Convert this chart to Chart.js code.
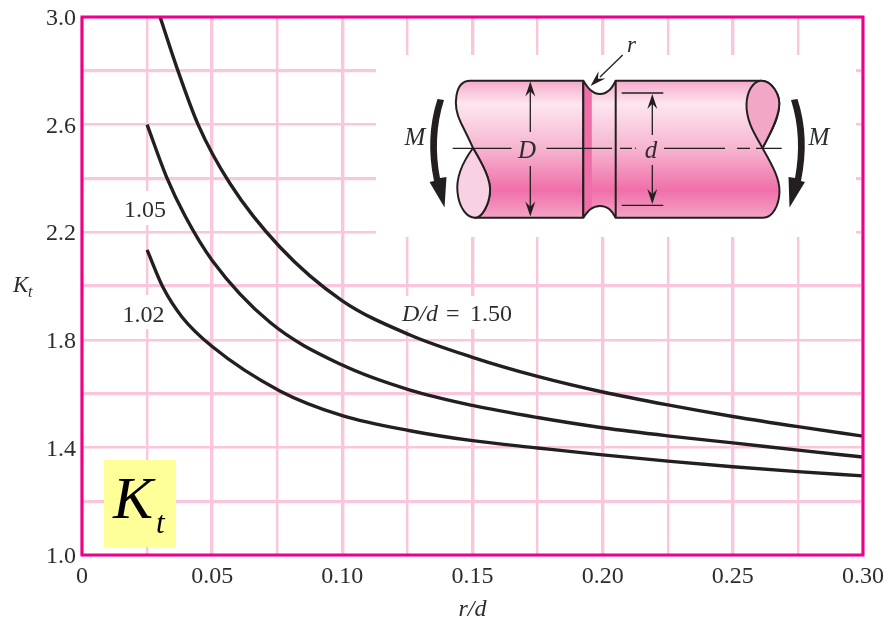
<!DOCTYPE html>
<html>
<head>
<meta charset="utf-8">
<title>Kt vs r/d</title>
<style>
  html, body { margin: 0; padding: 0; background: #fff; }
  canvas { display: block; }
</style>
<script src="https://cdn.jsdelivr.net/npm/chart.js@4/dist/chart.umd.min.js"></script>
</head>
<body>
<canvas id="ktChart" width="889" height="624"></canvas>
<script>
const xTickLabels = ['0', '', '0.05', '', '0.10', '', '0.15', '', '0.20', '', '0.25', '', '0.30'];
const yTickLabels = ['1.0', '', '1.4', '', '1.8', '', '2.2', '', '2.6', '', '3.0'];

const rd150 = [0.030, 0.0365, 0.0446, 0.0569, 0.076, 0.100, 0.126, 0.150, 0.175, 0.200, 0.225, 0.250, 0.275, 0.300];
const kt150 = [3.00, 2.81, 2.60, 2.38, 2.145, 1.945, 1.818, 1.735, 1.664, 1.606, 1.558, 1.515, 1.477, 1.442];

const rd105 = [0.025, 0.0327, 0.0396, 0.050, 0.0722, 0.100, 0.126, 0.150, 0.175, 0.200, 0.225, 0.250, 0.275, 0.300];
const kt105 = [2.60, 2.40, 2.26, 2.095, 1.865, 1.706, 1.613, 1.556, 1.511, 1.473, 1.443, 1.417, 1.39, 1.364];

const rd102 = [0.025, 0.0311, 0.0384, 0.050, 0.076, 0.100, 0.126, 0.150, 0.175, 0.200, 0.225, 0.250, 0.275, 0.300];
const kt102 = [2.134, 1.995, 1.885, 1.775, 1.61, 1.518, 1.462, 1.425, 1.398, 1.372, 1.349, 1.328, 1.31, 1.294];

const curveLabels = ['D/d = 1.50', '1.05', '1.02'];

const SERIF = '"Liberation Serif", "Times New Roman", serif';
const TEXT = '#2e2c2d';
const GRID = '#fac6dd';
const FRAME = '#ec008c';
const CURVE = '#231f20';

function toPoints(xs, ys) {
  return xs.map((x, i) => ({ x: x, y: ys[i] }));
}

function curve(label, xs, ys) {
  return {
    label: label,
    data: toPoints(xs, ys),
    borderColor: CURVE,
    borderWidth: 3.4,
    pointRadius: 0,
    cubicInterpolationMode: 'monotone',
    fill: false
  };
}

// white patches behind the text, the grid stops at these
function whitePatches(ctx) {
  ctx.fillStyle = '#fff';
  ctx.fillRect(376, 55, 480, 182);
  ctx.fillRect(123, 191, 44, 34);
  ctx.fillRect(121, 295, 46, 34);
  ctx.fillRect(400, 296, 115, 33);
}

function serifText(ctx, str, x, y, size, italic, align) {
  ctx.font = (italic ? 'italic ' : '') + size + 'px ' + SERIF;
  ctx.textAlign = align || 'left';
  ctx.textBaseline = 'alphabetic';
  ctx.fillText(str, x, y);
}

function arrowHead(ctx, x, y, dx, dy, len, half) {
  ctx.beginPath();
  ctx.moveTo(x, y);
  ctx.lineTo(x - dx * len - dy * half, y - dy * len + dx * half);
  ctx.lineTo(x - dx * len * 0.65, y - dy * len * 0.65);
  ctx.lineTo(x - dx * len + dy * half, y - dy * len - dx * half);
  ctx.closePath();
  ctx.fill();
}

// the shaft drawing in the upper right, not data
function drawShaft(ctx) {
  const top = 80.7, bottom = 217.7;
  const grad = ctx.createLinearGradient(0, top, 0, bottom);
  grad.addColorStop(0, '#f5a9c9');
  grad.addColorStop(0.17, '#fde6f0');
  grad.addColorStop(0.5, '#f6b4cf');
  grad.addColorStop(0.8, '#f06fa9');
  grad.addColorStop(1, '#f4a3c6');

  ctx.save();
  ctx.lineJoin = 'round';

  // left part
  ctx.beginPath();
  ctx.moveTo(583.3, top);
  ctx.lineTo(470, top);
  ctx.bezierCurveTo(455, top, 452, 105, 461, 123);
  ctx.bezierCurveTo(466, 133, 470, 141, 473, 148);
  ctx.bezierCurveTo(483, 165, 491, 180, 490, 192);
  ctx.bezierCurveTo(489, 205, 482, bottom, 475, bottom);
  ctx.lineTo(583.3, bottom);
  ctx.closePath();
  ctx.fillStyle = grad;
  ctx.fill();
  ctx.strokeStyle = CURVE;
  ctx.lineWidth = 2;
  ctx.stroke();

  // left end face
  ctx.beginPath();
  ctx.moveTo(473, 148);
  ctx.bezierCurveTo(462, 163, 456, 178, 457.5, 192);
  ctx.bezierCurveTo(459, 208, 467, bottom, 475, bottom);
  ctx.bezierCurveTo(482, bottom, 489, 205, 490, 192);
  ctx.bezierCurveTo(491, 180, 483, 165, 473, 148);
  ctx.closePath();
  ctx.fillStyle = '#f8d2e3';
  ctx.fill();
  ctx.stroke();

  // neck
  ctx.beginPath();
  ctx.moveTo(583.3, top);
  ctx.bezierCurveTo(588, 88, 592, 94, 600, 94);
  ctx.bezierCurveTo(608, 94, 612, 88, 615.7, top);
  ctx.lineTo(615.7, bottom);
  ctx.bezierCurveTo(612, 211, 608, 206, 600, 206);
  ctx.bezierCurveTo(592, 206, 588, 211, 583.3, bottom);
  ctx.closePath();
  ctx.fillStyle = grad;
  ctx.fill();
  ctx.save();
  ctx.clip();
  ctx.fillStyle = '#ef6ea8';
  ctx.fillRect(583.3, top, 8.5, bottom - top);
  ctx.restore();
  ctx.beginPath();
  ctx.moveTo(583.3, top);
  ctx.lineTo(583.3, bottom);
  ctx.moveTo(583.3, top);
  ctx.bezierCurveTo(588, 88, 592, 94, 600, 94);
  ctx.bezierCurveTo(608, 94, 612, 88, 615.7, top);
  ctx.moveTo(583.3, bottom);
  ctx.bezierCurveTo(588, 211, 592, 206, 600, 206);
  ctx.bezierCurveTo(608, 206, 612, 211, 615.7, bottom);
  ctx.stroke();

  // right part
  ctx.beginPath();
  ctx.moveTo(615.7, top);
  ctx.lineTo(761, top);
  ctx.bezierCurveTo(772, top, 781, 95, 779, 108);
  ctx.bezierCurveTo(777, 122, 769, 136, 762.5, 148);
  ctx.bezierCurveTo(771, 163, 780, 178, 779.5, 192);
  ctx.bezierCurveTo(779, 205, 773, bottom, 763, bottom);
  ctx.lineTo(615.7, bottom);
  ctx.closePath();
  ctx.fillStyle = grad;
  ctx.fill();
  ctx.stroke();

  // right end face
  ctx.beginPath();
  ctx.moveTo(761, top);
  ctx.bezierCurveTo(772, top, 781, 95, 779, 108);
  ctx.bezierCurveTo(777, 122, 769, 136, 762.5, 148);
  ctx.bezierCurveTo(756, 136, 746, 122, 746.5, 104);
  ctx.bezierCurveTo(747, 92, 753, top, 761, top);
  ctx.closePath();
  ctx.fillStyle = '#f3a7c7';
  ctx.fill();
  ctx.stroke();

  // centre line, broken around the letters
  ctx.strokeStyle = CURVE;
  ctx.lineWidth = 1.3;
  ctx.beginPath();
  [[452.7, 511.5], [546.5, 612], [620, 632], [636, 635], [664, 725], [737, 750], [756, 781.7]].forEach(seg => {
    ctx.moveTo(seg[0], 148.3);
    ctx.lineTo(seg[1], 148.3);
  });
  ctx.stroke();

  // D and d dimensions
  ctx.beginPath();
  ctx.moveTo(530.3, 88); ctx.lineTo(530.3, 132);
  ctx.moveTo(530.3, 166); ctx.lineTo(530.3, 211);
  ctx.moveTo(652.3, 100); ctx.lineTo(652.3, 135);
  ctx.moveTo(652.3, 165); ctx.lineTo(652.3, 199);
  ctx.moveTo(621.7, 93); ctx.lineTo(663.3, 93);
  ctx.moveTo(621.7, 205.3); ctx.lineTo(663.3, 205.3);
  ctx.stroke();
  ctx.fillStyle = CURVE;
  arrowHead(ctx, 530.3, 81.5, 0, -1, 15, 5);
  arrowHead(ctx, 530.3, 216.5, 0, 1, 15, 5);
  arrowHead(ctx, 652.3, 94, 0, -1, 15, 5);
  arrowHead(ctx, 652.3, 204, 0, 1, 15, 5);

  // r pointer
  ctx.beginPath();
  ctx.moveTo(622.7, 55);
  ctx.lineTo(600, 77);
  ctx.stroke();
  arrowHead(ctx, 590.5, 86, -0.72, 0.69, 16, 5);

  // M arrows
  ctx.beginPath();
  ctx.moveTo(437.5, 99);
  ctx.lineTo(444, 100);
  ctx.bezierCurveTo(436, 125, 435, 152, 440, 178);
  ctx.lineTo(446.5, 177);
  ctx.lineTo(444.5, 207.5);
  ctx.lineTo(429.5, 182);
  ctx.lineTo(434, 181);
  ctx.bezierCurveTo(428, 152, 429, 125, 437.5, 99);
  ctx.closePath();
  ctx.fill();

  ctx.beginPath();
  ctx.moveTo(797.5, 99);
  ctx.lineTo(791, 100);
  ctx.bezierCurveTo(799, 125, 800, 152, 795, 178);
  ctx.lineTo(788.5, 177);
  ctx.lineTo(789.5, 207.5);
  ctx.lineTo(805, 182);
  ctx.lineTo(801, 181);
  ctx.bezierCurveTo(807, 152, 806, 125, 797.5, 99);
  ctx.closePath();
  ctx.fill();

  // letters
  ctx.fillStyle = TEXT;
  serifText(ctx, 'r', 627, 52, 23, true);
  serifText(ctx, 'M', 415, 145, 25, true, 'center');
  serifText(ctx, 'M', 819, 145, 25, true, 'center');
  serifText(ctx, 'D', 527, 158, 25, true, 'center');
  serifText(ctx, 'd', 651, 158, 25, true, 'center');
  ctx.restore();
}

const figurePlugin = {
  id: 'figure',
  beforeDatasetsDraw(chart) {
    const ctx = chart.ctx;
    ctx.save();
    whitePatches(ctx);
    ctx.fillStyle = '#ffff99';
    ctx.fillRect(104, 460, 72, 87);
    drawShaft(ctx);
    ctx.restore();
  },
  afterDatasetsDraw(chart) {
    const ctx = chart.ctx;
    const a = chart.chartArea;
    const xs = chart.scales.x;
    const ys = chart.scales.y;
    ctx.save();
    ctx.strokeStyle = FRAME;
    ctx.lineWidth = 3;
    ctx.strokeRect(a.left, a.top, a.right - a.left, a.bottom - a.top);

    ctx.fillStyle = TEXT;
    serifText(ctx, curveLabels[1], xs.getPixelForValue(0.0242), ys.getPixelForValue(2.257), 24, false, 'center');
    serifText(ctx, curveLabels[2], xs.getPixelForValue(0.0236), ys.getPixelForValue(1.867), 24, false, 'center');

    // D/d = 1.50, italic part, equals sign and number spaced out by hand
    const lx = xs.getPixelForValue(0.1229);
    const ly = ys.getPixelForValue(1.871);
    const parts = curveLabels[0].split(' ');
    serifText(ctx, parts[0], lx, ly, 24, true);
    serifText(ctx, parts[1], lx + 44, ly, 24, false);
    serifText(ctx, parts[2], lx + 68, ly, 24, false);

    // y axis name
    serifText(ctx, 'K', 13, 292, 23, true);
    serifText(ctx, 't', 28, 297, 16, true);

    // big Kt on the yellow box
    ctx.fillStyle = '#000';
    serifText(ctx, 'K', 113, 518, 60, true);
    serifText(ctx, 't', 156, 533, 31, true);
    ctx.restore();
  }
};

new Chart(document.getElementById('ktChart'), {
  type: 'line',
  data: {
    datasets: [
      curve('D/d = 1.50', rd150, kt150),
      curve('D/d = 1.05', rd105, kt105),
      curve('D/d = 1.02', rd102, kt102)
    ]
  },
  options: {
    responsive: false,
    animation: false,
    layout: { padding: { top: 17, right: 26, left: 0, bottom: 0 } },
    plugins: { legend: { display: false }, tooltip: { enabled: false } },
    scales: {
      x: {
        type: 'linear',
        min: 0,
        max: 0.3,
        afterFit(scale) {
          scale.height = 69;
          scale.paddingLeft = 0;
          scale.paddingRight = 0;
        },
        border: { display: false },
        grid: {
          color: GRID,
          drawTicks: false,
          lineWidth: c => (Math.round(c.tick.value / 0.025) % 2 === 0 ? 3.4 : 2.4)
        },
        ticks: {
          stepSize: 0.025,
          autoSkip: false,
          maxRotation: 0,
          padding: 7,
          color: TEXT,
          font: { family: SERIF, size: 24 },
          callback: (v) => xTickLabels[Math.round(v / 0.025)]
        },
        title: {
          display: true,
          text: 'r/d',
          color: TEXT,
          font: { family: SERIF, size: 24, style: 'italic' },
          padding: { top: 0, bottom: 0 }
        }
      },
      y: {
        type: 'linear',
        min: 1,
        max: 3,
        afterFit(scale) {
          scale.width = 82;
          scale.paddingTop = 0;
          scale.paddingBottom = 0;
        },
        border: { display: false },
        grid: {
          color: GRID,
          drawTicks: false,
          lineWidth: c => (Math.round((c.tick.value - 1) / 0.2) % 2 === 1 ? 3.2 : 2.4)
        },
        ticks: {
          stepSize: 0.2,
          autoSkip: false,
          padding: 6,
          labelOffset: 2,
          color: TEXT,
          font: { family: SERIF, size: 24 },
          callback: (v) => yTickLabels[Math.round((v - 1) / 0.2)]
        }
      }
    }
  },
  plugins: [figurePlugin]
});
</script>
</body>
</html>
